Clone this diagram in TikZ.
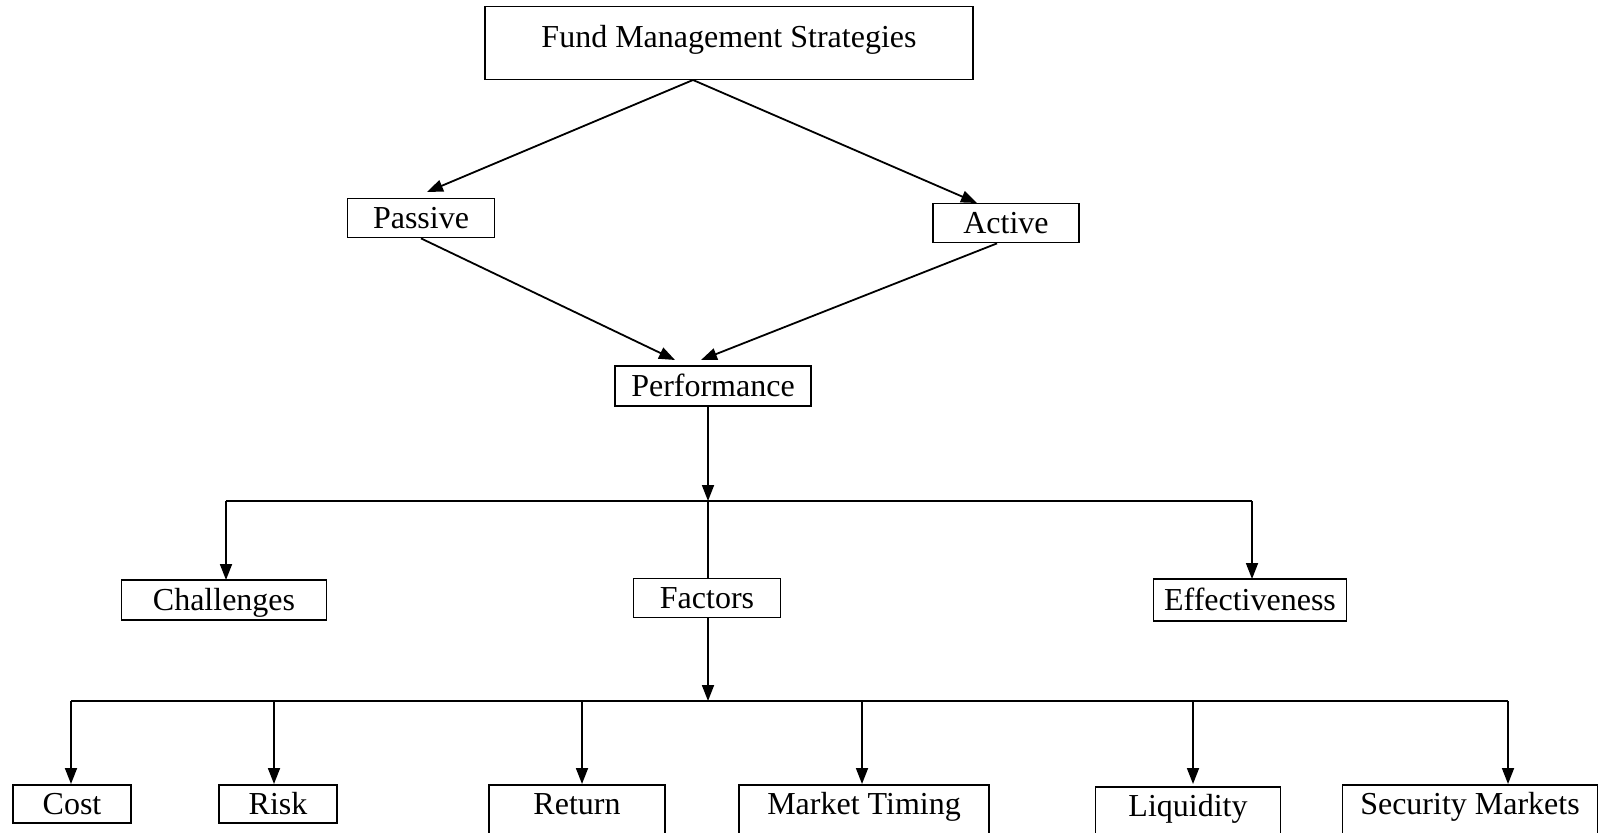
\documentclass[tikz,border=0pt]{standalone}
\usepackage{fontspec}
\setmainfont{Liberation Serif}
\usetikzlibrary{arrows.meta}

\tikzset{
  box/.style={draw, line width=0.9pt, inner sep=0pt, font=\fontsize{16}{19}\selectfont,
    text height=12.5pt, text depth=2pt},
  leaf/.style={box, anchor=north, text height=15pt, text depth=4pt},
  tall/.style={leaf, text depth=30pt},
  arr/.style={line width=0.9pt, -{Triangle[length=8pt,width=6pt]}},
  ln/.style={line width=0.9pt}
}

\begin{document}
\begin{tikzpicture}[x=0.5pt,y=-0.5pt]
 \useasboundingbox (0,0) rectangle (1604,833);
 % top levels
 \node[box, minimum width=244pt, minimum height=36.5pt, text height=11pt, text depth=6pt] (fms) at (729,43) {Fund Management Strategies};
 \node[box, minimum width=73.5pt, minimum height=19.5pt] (passive) at (421,218) {Passive};
 \node[box, minimum width=73pt, minimum height=19.5pt] (active) at (1006,223) {Active};
 \node[box, minimum width=98pt, minimum height=20pt] (perf) at (713,386) {Performance};
 % second level
 \node[box, minimum width=102.5pt, minimum height=20pt] (chal) at (224,600) {Challenges};
 \node[box, minimum width=73.5pt, minimum height=19.5pt] (fact) at (707,598) {Factors};
 \node[box, minimum width=96.5pt, minimum height=21pt] (eff) at (1250,600) {Effectiveness};
 % factors
 \node[leaf, minimum width=59pt] (cost) at (72,784) {Cost};
 \node[leaf, minimum width=59pt] (risk) at (278,784) {Risk};
 \node[tall, minimum width=88pt] (ret) at (577,784) {Return};
 \node[tall, minimum width=125pt] (mt) at (864,784) {Market Timing};
 \node[tall, minimum width=92.5pt] (liq) at (1188,786) {Liquidity};
 \node[tall, minimum width=127.5pt] (sec) at (1470,784) {Security Markets};

 \coordinate (apex) at (693,80);
 \coordinate (j1) at (708,501);
 \coordinate (j2) at (708,701);

 \draw[arr] (apex) -- (427,192);
 \draw[arr] (apex) -- (977,203);
 \draw[arr] (passive.south) -- (675,360);
 \draw[arr] (active.south) ++(-9,0) -- (701,360);

 \draw[arr] (j1 |- perf.south) -- (j1);
 \draw[ln] (226,501) -- (1252,501);
 \draw[ln] (j1) -- (j1 |- fact.north);
 \draw[arr] (226,501) -- (226,580);
 \draw[arr] (1252,501) -- (1252,579);

 \draw[arr] (j2 |- fact.south) -- (j2);
 \draw[ln] (71,701) -- (1508,701);
 \foreach \n/\x in {cost/71, risk/274, ret/582, mt/862, liq/1193, sec/1508}
   \draw[arr] (\x,701) -- (\x,784);
\end{tikzpicture}
\end{document}
